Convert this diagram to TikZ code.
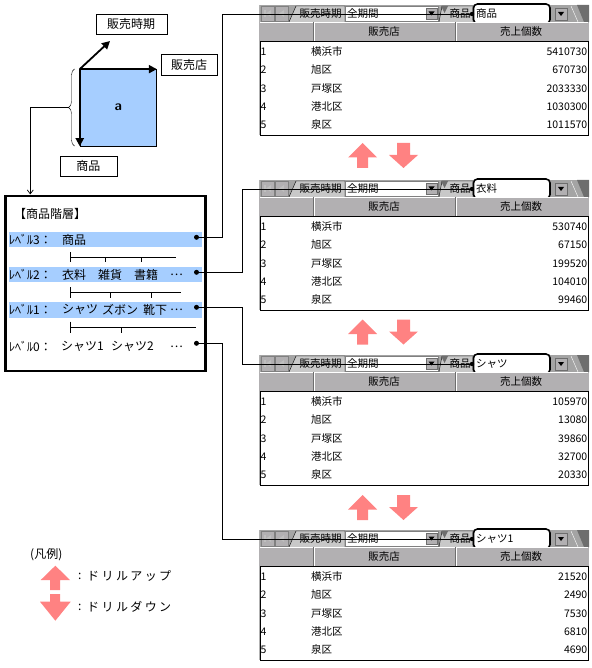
\documentclass[tikz,border=0pt]{standalone}
\usepackage{fontspec}
\setmainfont{Noto Sans CJK JP}
\usetikzlibrary{arrows.meta,decorations.pathreplacing,calc}
\definecolor{cubeblue}{HTML}{A6CEFF}
\definecolor{pinkc}{HTML}{FF8282}
\definecolor{tbbg}{HTML}{A4A4A4}
\definecolor{hdrc}{HTML}{B2B0B2}
\definecolor{tabc}{HTML}{C8C8C8}
\definecolor{darkc}{HTML}{6E6E6E}
\newcommand\ks{\kern2.4pt}
\tikzset{
  lbl/.style={draw, inner sep=0pt, font=\fontsize{12}{14}\selectfont},
  htext/.style={inner sep=0pt, anchor=west, font=\fontsize{12}{14}\selectfont},
  celltext/.style={inner sep=0pt, font=\fontsize{10.5}{12}\selectfont},
  tabtext/.style={inner sep=0pt, font=\fontsize{10.5}{12}\selectfont},
  dotn/.style={circle, fill, inner sep=0pt, minimum size=5pt},
  axis/.style={line width=1.8pt, -{Triangle[length=8pt,width=8pt]}},
  conn/.style={line width=0.8pt},
  tree/.style={line width=0.7pt},
  uparr/.pic={\fill[pinkc] (0,14.5) -- (14.5,0) -- (29,14.5) -- (20,14.5) -- (20,25) -- (9,25) -- (9,14.5) -- cycle;},
  dnarr/.pic={\fill[pinkc] (8,0) -- (21,0) -- (21,12) -- (29,12) -- (14.5,25) -- (0,12) -- (8,12) -- cycle;},
  uparrL/.pic={\fill[pinkc] (0,14.3) -- (14.65,0) -- (29.3,14.3) -- (19.3,14.3) -- (19.3,24.3) -- (9.3,24.3) -- (9.3,14.3) -- cycle;},
  dnarrL/.pic={\fill[pinkc] (10,0) -- (20,0) -- (20,7.7) -- (30.7,7.7) -- (15.35,26.7) -- (0,7.7) -- (10,7.7) -- cycle;}
}
\newcommand\drawtable[4]{%
\begin{scope}[shift={(0,#2)}]
  \fill[tbbg] (259,5) rectangle (589,22);
  \draw[gray!60] (259,5) -- (259,135);
  \filldraw[fill=hdrc,draw=gray] (261,6) rectangle (274,21);
  \filldraw[fill=hdrc,draw=gray] (275,6) rectangle (288,21);
  \fill[gray!50] (264,10) rectangle (265.5,17);
  \fill[gray!50] (266,13.5) -- (271,10) -- (271,17) -- cycle;
  \fill[gray!50] (279,13.5) -- (284,10) -- (284,17) -- cycle;
  \filldraw[fill=tabc,draw=black] (289,22) -- (296,6) -- (345,6) -- (345,22);
  \node[tabtext] (t#1tabA) at (320.5,14) {販売時期};
  \filldraw[fill=white,draw=gray] (345,6) rectangle (438,21);
  \node[tabtext,anchor=west] (t#1cA) at (347,13.8) {全期間};
  \filldraw[fill=hdrc,draw=darkc] (426,8) rectangle (437,19);
  \fill (428.5,11.5) -- (434.5,11.5) -- (431.5,15.5) -- cycle;
  \filldraw[fill=tabc,draw=black] (439,22) -- (442,6) -- (473,6) -- (473,22);
  \fill[darkc] (441,6) -- (448,6) -- (444.5,13) -- cycle;
  \node[tabtext] (t#1tabB) at (460,14) {商品};
  \filldraw[fill=white,draw=black,line width=1.6pt,rounded corners=4pt] (473.5,4) rectangle (550,23.5);
  \node[tabtext,anchor=west] (t#1cB) at (476,13.8) {#3};
  \coordinate (cb#1) at (472,14);
  \filldraw[fill=hdrc,draw=darkc] (555,8) rectangle (567,20);
  \fill (558,12) -- (564,12) -- (561,16) -- cycle;
  \fill[darkc] (577,5) -- (589,5) -- (589,22) -- (584,22) -- cycle;
  \draw[white] (571,6) -- (578,22);
  \fill[hdrc] (259,22) rectangle (589,41);
  \draw[white] (260,22.5) -- (588,22.5);
  \draw[darkc] (313,22) -- (313,41); \draw[white] (314,22) -- (314,41);
  \draw[darkc] (455,22) -- (455,41); \draw[white] (456,22) -- (456,41);
  \node[celltext] (t#1hA) at (384,31.5) {販売店};
  \node[celltext] (t#1hB) at (521,31.5) {売上個数};
  \filldraw[fill=white,draw=black] (260,41) rectangle (588,135);
  \foreach \n [count=\i] in {横浜市,旭区,戸塚区,港北区,泉区} {
    \node[celltext,anchor=west] (t#1n\i) at (311,{51.7+18.3*(\i-1)}) {\n};
    \node[celltext,anchor=west] (t#1i\i) at (260.5,{51.7+18.3*(\i-1)}) {\i};
  }
  \foreach \v [count=\i] in {#4} {
    \node[celltext,anchor=east] (t#1v\i) at (587.5,{51.7+18.3*(\i-1)}) {\v};
  }
\end{scope}}
\begin{document}
\begin{tikzpicture}[x=1pt,y=-1pt]
\useasboundingbox (0,0) rectangle (591,668);
% ---- cube
\node[fill=cubeblue, draw, minimum width=76.7pt, minimum height=76.7pt, inner sep=0pt,
      font=\sffamily\bfseries\fontsize{14}{16}\selectfont] (cube) at (118.3,107.7) {a};
\coordinate (diagtip) at (110,41);
\draw[axis] (cube.north west) -- (diagtip);
\draw[axis] (cube.north west) -- (cube.north east);
\draw[axis] (cube.north west) -- (cube.south west);
\node[lbl, minimum width=71pt, minimum height=20pt] (lblT) at (131.2,24.3) {販売時期};
\node[lbl, minimum width=56pt, minimum height=21pt] (lblS) at (189,65) {販売店};
\node[lbl, minimum width=57pt, minimum height=20pt] (lblP) at (88.3,166) {商品};
\draw[decorate, decoration={brace, amplitude=6pt}] (74.5,146) -- (74.5,69);
\coordinate (bt) at (68.5,107.5);
% ---- hierarchy box
\node[draw, line width=2.5pt, minimum width=200.2pt, minimum height=174.5pt, inner sep=0pt] (hb) at (105.4,283.5) {};
\coordinate (hbin) at (30.3,194.5);
\draw[line width=0.7pt, -{Straight Barb[length=4pt,width=6pt]}] (bt) -| (hbin);
\node[htext] (title) at (14,214) {【商品階層】};
\fill[cubeblue] (9,231.7) rectangle (202,247.3);
\fill[cubeblue] (9,266.7) rectangle (202,282.3);
\fill[cubeblue] (9,301.7) rectangle (202,317.7);
\node[htext] (l3) at (9,239.5) {ﾚﾍﾞﾙ3：};
\node[htext] (l3a) at (62,239.5) {商品};
\node[htext] (l2) at (9,274.5) {ﾚﾍﾞﾙ2：};
\node[htext] (l2a) at (62,274.5) {衣料};
\node[htext] (l2b) at (98,274.5) {雑貨};
\node[htext] (l2c) at (134,274.5) {書籍};
\node[htext] (l2d) at (170,274.5) {…};
\node[htext] (l1) at (9,309.7) {ﾚﾍﾞﾙ1：};
\node[htext] (l1a) at (62,309.7) {シャツ};
\node[htext] (l1b) at (102,309.7) {ズボン};
\node[htext] (l1c) at (143,309.7) {靴下};
\node[htext] (l1d) at (170,309.7) {…};
\node[htext] (l0) at (9,346.5) {ﾚﾍﾞﾙ0：};
\node[htext] (l0a) at (61,346.5) {シャツ1};
\node[htext] (l0b) at (111,346.5) {シャツ2};
\node[htext] (l0d) at (170,346.5) {…};
% tree lines
\draw[tree] (70.7,252) -- (70.7,262.3) (70.7,257) -- (175.7,257)
  (105.7,257) -- (105.7,262.3) (141.7,257) -- (141.7,262.3);
\draw[tree] (70.7,287.3) -- (70.7,298.3) (70.7,292.3) -- (181,292.3)
  (110.3,292.3) -- (110.3,298.3) (151.7,292.3) -- (151.7,298.3);
\draw[tree] (70.7,321.7) -- (70.7,332.7) (70.7,327) -- (195.7,327)
  (121,327) -- (121,332.7);
\node[dotn] (d3) at (196.5,237.3) {};
\node[dotn] (d2) at (196.5,272.3) {};
\node[dotn] (d1) at (196.5,307.3) {};
\node[dotn] (d0) at (196.5,343.3) {};
% ---- tables
\drawtable{1}{0}{商品}{5410730,670730,2033330,1030300,1011570}
\drawtable{2}{175}{衣料}{530740,67150,199520,104010,99460}
\drawtable{3}{350}{シャツ}{105970,13080,39860,32700,20330}
\drawtable{4}{525}{シャツ1}{21520,2490,7530,6810,4690}
% ---- connectors
\coordinate (j3) at (222.3,14);
\coordinate (j2) at (242.3,189);
\coordinate (j1) at (242.3,364);
\coordinate (j0) at (222.3,539);
\draw[conn] (d3) -| (j3) -- (cb1);
\draw[conn] (d2) -| (j2) -- (cb2);
\draw[conn] (d1) -| (j1) -- (cb3);
\draw[conn] (d0) -| (j0) -- (cb4);
\foreach \k in {1,2,3,4} { \fill (cb\k) circle (2.2pt); }
% ---- drill arrows
\foreach \yy [count=\k] in {143,319.5,495} {
  \pic (pu\k) at (348,\yy) {uparr};
  \pic (pd\k) at (389,\yy) {dnarr};
}
% ---- legend
\node[htext] (lgd) at (30,555) {(凡例)};
\pic (lgU) at (40.7,565.7) {uparrL};
\pic (lgD) at (40,594) {dnarrL};
\node[htext] (lcU) at (78,576) {:};
\node[htext] (ltU) at (87,576) {ド\ks リ\ks ル\ks ア\ks ッ\ks プ};
\node[htext] (lcD) at (78,607) {:};
\node[htext] (ltD) at (87,607) {ド\ks リ\ks ル\ks ダ\ks ウ\ks ン};
\end{tikzpicture}
\end{document}
